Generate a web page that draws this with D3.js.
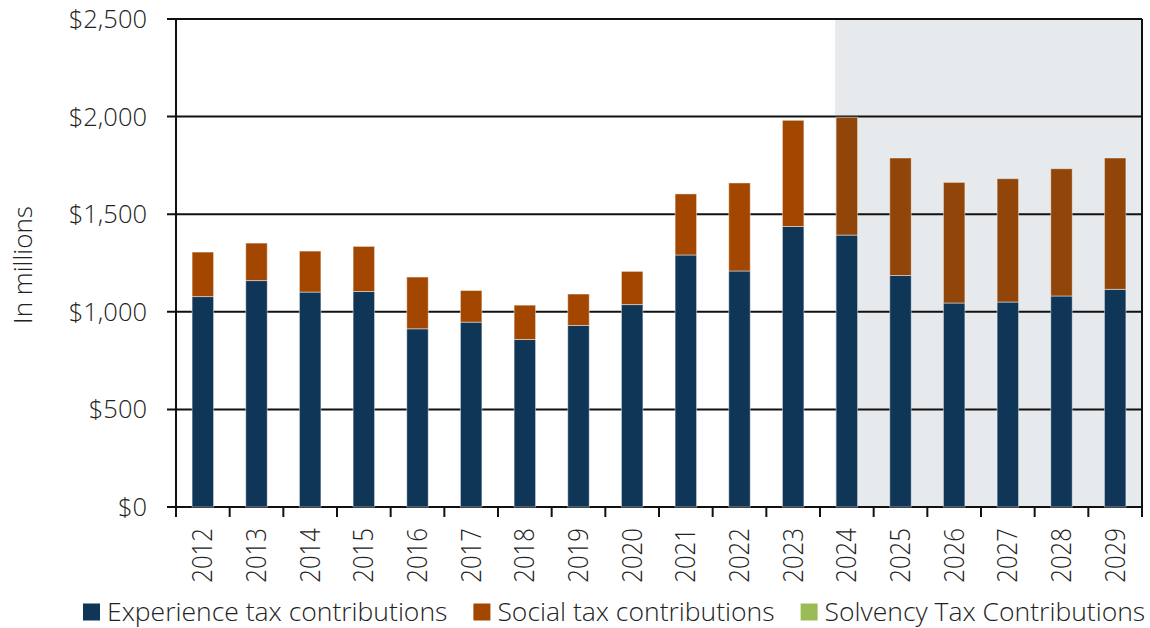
<!DOCTYPE html>
<html>
<head>
<meta charset="utf-8">
<script src="https://cdn.jsdelivr.net/npm/d3@7"></script>
<style>
  body { margin: 0; background: #fff; }
  text { font-family: "Open Sans", sans-serif; font-weight: 300; fill: #222; }
</style>
</head>
<body>
<div class="chart"></div>
<script>
// data (millions)
var years = ["2012","2013","2014","2015","2016","2017","2018","2019","2020",
             "2021","2022","2023","2024","2025","2026","2027","2028","2029"];
var experience = [1078,1160,1101,1104,913,947,858,930,1037,1291,1209,1437,1393,1186,1045,1050,1081,1115];
var social     = [228,192,210,231,265,162,176,161,170,313,451,544,604,602,618,632,652,673];
var solvency   = [0,0,0,0,0,0,0,0,0,0,0,0,0,0,0,0,0,0];
var yTicks = [0,500,1000,1500,2000,2500];
var forecastStart = "2024";
var seriesNames = ["Experience tax contributions","Social tax contributions","Solvency Tax Contributions"];

var width = 1150, height = 628;
var margin = {top: 19, right: 8, bottom: 121, left: 176};

var colors = {exp: "#0f3557", social: "#a34700", socialF: "#914509", solv: "#9bbb59"};

var svg = d3.select(".chart").append("svg")
  .attr("width", width)
  .attr("height", height);

var x = d3.scaleBand()
  .domain(years)
  .range([margin.left, width - margin.right])
  .paddingInner(0.6)
  .paddingOuter(0.3);

var y = d3.scaleLinear()
  .domain([0, 2500])
  .range([height - margin.bottom, margin.top]);

var rows = years.map(function(yr, i) {
  return {year: yr, exp: experience[i], social: social[i], solv: solvency[i]};
});

// forecast shading
var step = x.step();
svg.append("rect")
  .attr("x", x(forecastStart) - 1)
  .attr("y", y(2500))
  .attr("width", (width - margin.right) - x(forecastStart) + 1)
  .attr("height", y(0) - y(2500))
  .attr("fill", "#e6eaed");

// gridlines
svg.append("g")
  .selectAll("line")
  .data(yTicks)
  .enter().append("line")
  .attr("x1", margin.left - 9)
  .attr("x2", width - margin.right)
  .attr("y1", function(d) { return y(d); })
  .attr("y2", function(d) { return y(d); })
  .attr("stroke", "#111")
  .attr("stroke-width", 2);

// y labels
svg.append("g")
  .selectAll("text")
  .data(yTicks)
  .enter().append("text")
  .attr("x", 147)
  .attr("y", function(d) { return y(d); })
  .attr("dy", "0.35em")
  .attr("text-anchor", "end")
  .style("font-size", "25.5px")
  .text(function(d) { return "$" + d3.format(",")(d); });

// bars
var stack = d3.stack().keys(["exp", "social", "solv"])(rows);
var fillFor = function(key, d) {
  if (key === "exp") return colors.exp;
  if (key === "solv") return colors.solv;
  return (+d.data.year >= +forecastStart) ? colors.socialF : colors.social;
};

stack.forEach(function(layer) {
  svg.append("g")
    .selectAll("rect")
    .data(layer.filter(function(d) { return d[1] > d[0]; }))
    .enter().append("rect")
    .attr("x", function(d) { return x(d.data.year); })
    .attr("width", x.bandwidth())
    .attr("y", function(d) { return y(d[1]); })
    .attr("height", function(d) { return y(d[0]) - y(d[1]); })
    .attr("fill", function(d) { return fillFor(layer.key, d); })
    .attr("stroke", "rgba(255,255,255,0.45)")
    .attr("stroke-width", 1);
});

// axes lines
var x0 = margin.left, x1 = width - margin.right;
svg.append("line")
  .attr("x1", x0).attr("x2", x0)
  .attr("y1", y(2500)).attr("y2", y(0))
  .attr("stroke", "#111").attr("stroke-width", 2);
svg.append("line")
  .attr("x1", x1).attr("x2", x1)
  .attr("y1", y(2500)).attr("y2", y(0) + 10)
  .attr("stroke", "#111").attr("stroke-width", 2);

// x ticks at category boundaries
var bounds = years.map(function(d, i) { return margin.left + i * step; }).concat([x1]);
svg.append("g")
  .selectAll("line")
  .data(bounds)
  .enter().append("line")
  .attr("x1", function(d) { return d; })
  .attr("x2", function(d) { return d; })
  .attr("y1", y(0))
  .attr("y2", y(0) + 10)
  .attr("stroke", "#111")
  .attr("stroke-width", 2);

// x labels, rotated (glyphs a bit wider in the original)
svg.append("g")
  .selectAll("text")
  .data(years)
  .enter().append("text")
  .attr("transform", function(d) {
    return "translate(" + (x(d) + x.bandwidth() / 2) + "," + (y(0) + 21) + ") scale(1.12,1) rotate(-90)";
  })
  .attr("text-anchor", "end")
  .attr("dy", "0.35em")
  .style("font-size", "24px")
  .text(function(d) { return d; });

// y title
svg.append("text")
  .attr("transform", "translate(23," + (y(1250) + 2) + ") rotate(-90)")
  .attr("text-anchor", "middle")
  .attr("dy", "0.35em")
  .style("font-size", "26px")
  .text("In millions");

// legend
var legendColors = [colors.exp, colors.social, colors.solv];
var lx = 83, ly = 612;
seriesNames.forEach(function(name, i) {
  svg.append("rect")
    .attr("x", lx).attr("y", ly - 8.5)
    .attr("width", 17).attr("height", 17)
    .attr("fill", legendColors[i]);
  var t = svg.append("text")
    .attr("x", lx + 24).attr("y", ly)
    .attr("dy", "0.35em")
    .style("font-size", "26.5px")
    .text(name);
  lx = lx + 24 + t.node().getComputedTextLength() + 26;
});
</script>
</body>
</html>
